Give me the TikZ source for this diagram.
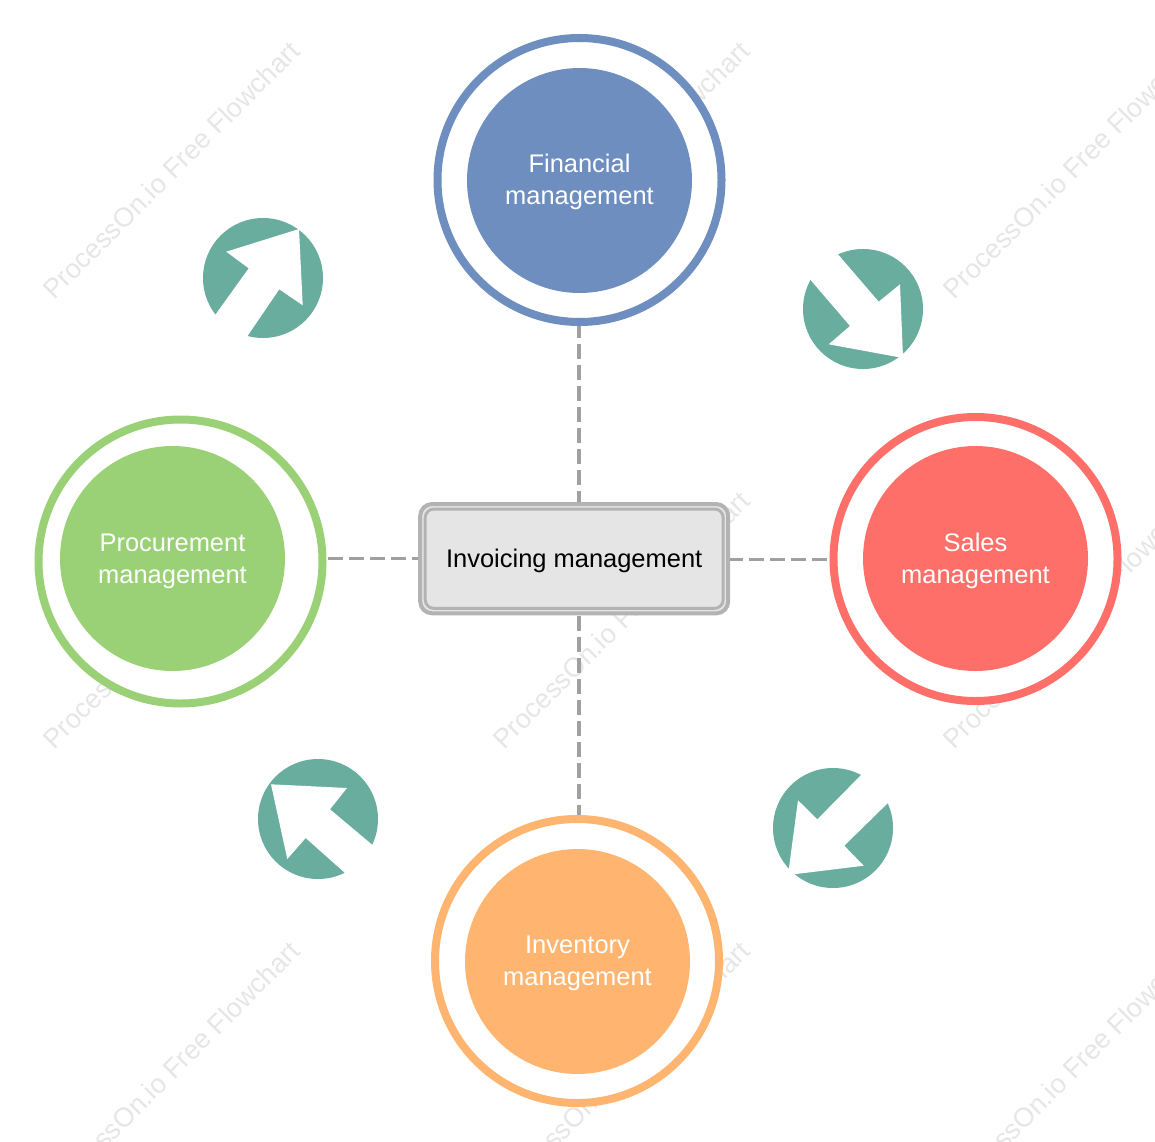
\documentclass[tikz,border=0pt]{standalone}
\usepackage{fontspec}
\setmainfont{Liberation Sans}
\definecolor{finblue}{HTML}{6D8EBE}
\definecolor{salesred}{HTML}{FF6F69}
\definecolor{procgreen}{HTML}{9AD176}
\definecolor{invorange}{HTML}{FFB570}
\definecolor{teal}{HTML}{69AD9F}
\definecolor{dashgray}{HTML}{A0A0A0}
\definecolor{boxgray}{HTML}{B3B3B3}
\definecolor{boxfill}{HTML}{E5E5E5}
\definecolor{wmark}{HTML}{E6E6E6}
\tikzset{
  x=0.75pt,y=-0.75pt,
  ring/.style={circle,draw=#1,fill=white,line width=6pt,minimum size=213pt,inner sep=0pt},
  core/.style={circle,fill=#1,minimum size=168.75pt,inner sep=0pt},
  corelabel/.style={text=white,align=center,inner sep=0pt,font=\fontsize{19.1}{24}\selectfont},
  outerbox/.style={rectangle,rounded corners=9pt,draw=boxgray,fill=boxfill,line width=3pt,
    minimum width=231pt,minimum height=82pt,inner sep=0pt},
  innerbox/.style={rectangle,rounded corners=6.5pt,draw=boxgray,fill=boxfill,line width=2.2pt,
    minimum width=223.5pt,minimum height=74.5pt,inner sep=0pt},
  boxlabel/.style={text=black,inner sep=0pt,font=\fontsize{19.1}{24}\selectfont},
  conn/.style={draw=dashgray,line width=2.3pt,dash pattern=on 11.25pt off 4.5pt,dash phase=#1},
  conn/.default=0pt,
  watermark/.style={rotate=45,text=wmark,font=\fontsize{20.25}{24}\selectfont,inner sep=0pt},
  disc/.style={circle,fill=teal,minimum size=90pt,inner sep=0pt},
  cut/.style={fill=white}
}
\begin{document}
\begin{tikzpicture}
\useasboundingbox (0,0) rectangle (1155,1141);
\begin{scope}
\clip (0,0) rectangle (1155,1141);
\foreach \wy [count=\r] in {170,620,1070}
  \foreach \wx [count=\c] in {171,621,1071}
    \node[watermark] (wm\r\c) at (\wx,\wy) {ProcessOn.io Free Flowchart};
\end{scope}

\node[ring=finblue] (fin) at (579.5,180) {};
\node[ring=salesred] (sales) at (975.5,559) {};
\node[ring=procgreen] (proc) at (180.5,561.5) {};
\node[ring=invorange] (inv) at (577,961) {};
\node[outerbox] (box) at (574.2,558.7) {};

\coordinate (vert) at (579,0);
\draw[conn=2.25pt] (fin.south -| vert) -- (box.north -| vert);
\draw[conn=14.6pt] (proc.east |- box.west) -- (box.west);
\draw[conn=1.7pt] ([yshift=-0.4pt]box.east) -- ([yshift=-0.4pt]box.east -| sales.west);
\draw[conn=15pt] (box.south -| vert) -- (inv.north -| vert);

\node[core=finblue] (fincore) at (579.5,180.5) {};
\node[corelabel] (fintext) at (579.5,181.8) {Financial\\management};
\node[core=salesred] (salescore) at (975.5,558.5) {};
\node[corelabel] (salestext) at (975.5,560.8) {Sales\\management};
\node[core=procgreen] (proccore) at (172.5,558.5) {};
\node[corelabel] (proctext) at (172.5,561.3) {Procurement\\management};
\node[core=invorange] (invcore) at (577.5,961.5) {};
\node[corelabel] (invtext) at (577.5,963.5) {Inventory\\management};
\node[innerbox] (boxin) at (box.center) {};
\node[boxlabel] (boxtext) at (574.2,560.5) {Invoicing management};

\node[disc] (d1) at (263,278) {};
\fill[cut] (299,229) -- (226.3,251.7) -- (248.7,268.3) -- (208,325) -- (240,347) -- (279.3,289.3) -- (302.7,305.3) -- cycle;
\node[disc] (d2) at (863,309) {};
\fill[cut] (903,358) -- (900,284.3) -- (878.7,301.7) -- (830,245) -- (802,270) -- (850,326) -- (828.7,344.3) -- cycle;
\node[disc] (d3) at (833,828) {};
\fill[cut] (788,875) -- (798,800.3) -- (817.3,819.3) -- (868,768) -- (895,796) -- (844.3,845.7) -- (863.7,865.7) -- cycle;
\node[disc] (d4) at (318,819) {};
\fill[cut] (271,784.3) -- (347,788) -- (330,809.3) -- (382,853) -- (354,881) -- (305.7,838) -- (287.3,859) -- cycle;
\end{tikzpicture}
\end{document}
